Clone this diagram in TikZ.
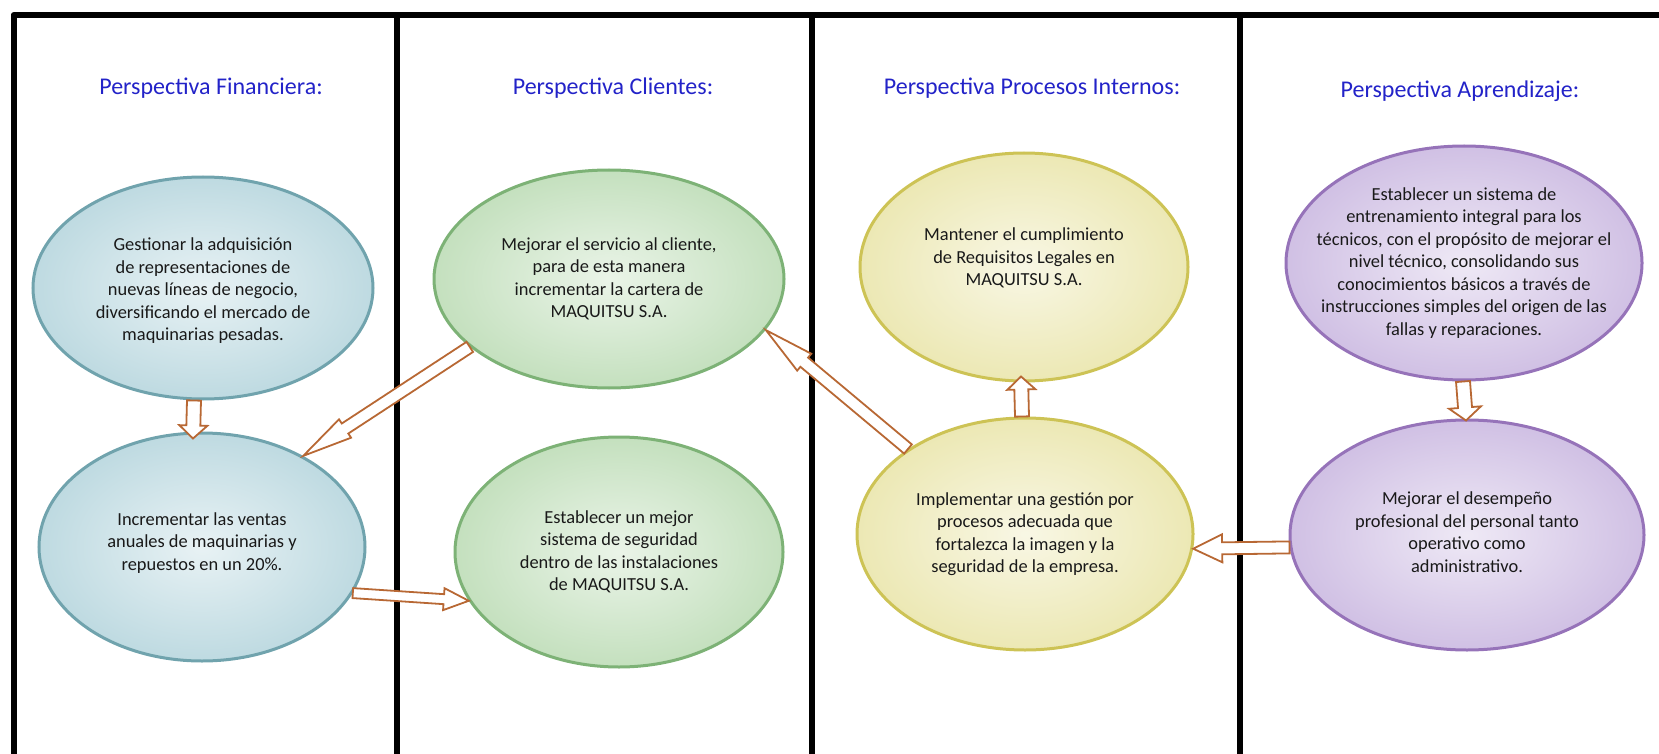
\documentclass[tikz,border=0pt]{standalone}
\usepackage{fontspec}
\setmainfont{Carlito}
\usetikzlibrary{calc}
\usetikzlibrary{shapes.geometric}

\definecolor{azul}{RGB}{35,35,200}
\definecolor{flecha}{RGB}{184,104,52}
\definecolor{finborde}{RGB}{112,163,173}
\definecolor{finfondo}{RGB}{190,218,225}
\definecolor{cliborde}{RGB}{125,178,118}
\definecolor{clifondo}{RGB}{196,224,190}
\definecolor{proborde}{RGB}{205,195,85}
\definecolor{profondo}{RGB}{236,232,180}
\definecolor{aprborde}{RGB}{150,115,185}
\definecolor{aprfondo}{RGB}{208,192,228}

\tikzset{
 oval/.style 2 args={ellipse, draw=#1, line width=1.5pt, inner color=#2!35!white, outer color=#2, inner sep=0pt},
 ovaltext/.style={align=center, font=\fontsize{9.2}{11.25}\selectfont, text=black!90},
 titulo/.style={font=\fontsize{12}{14}\selectfont, text=azul},
 hueca/.style n args={3}{draw=flecha, fill=white, line width=0.9pt, line join=miter,
  to path={let \p1=(\tikztostart), \p2=(\tikztotarget),
   \n1={atan2(\y2-\y1,\x2-\x1)}, \n2={veclen(\x2-\x1,\y2-\y1)} in
   [shift={(\p1)}, rotate=\n1]
   (0pt,-#1) -- ({\n2*1pt-#3},-#1) -- ({\n2*1pt-#3},-#2) -- ({\n2*1pt},0pt)
   -- ({\n2*1pt-#3},#2) -- ({\n2*1pt-#3},#1) -- (0pt,#1) -- cycle}}
}

\begin{document}
\begin{tikzpicture}[x=0.5pt, y=-0.5pt]
\useasboundingbox (0,0) rectangle (1659,754);
\draw[line width=3pt, line join=round] (13.5,754) -- (13.5,15) -- (1659,15);
\foreach \x in {397,812,1240} {
 \draw[line width=3pt] (\x,15) -- (\x,754);
}
\foreach \x/\y/\txt [count=\i] in {211/88/Financiera, 613/88/Clientes, 1032/88/Procesos Internos, 1460/91/Aprendizaje} {
 \node[titulo] (p\i) at (\x,\y) {Perspectiva \txt:};
}

\node[oval={finborde}{finfondo}, minimum width=170pt, minimum height=111pt] (e1) at (203,288) {};
\node[oval={finborde}{finfondo}, minimum width=163pt, minimum height=114pt] (e2) at (202,547) {};
\node[oval={cliborde}{clifondo}, minimum width=175pt, minimum height=109pt] (e3) at (609,279) {};
\node[oval={cliborde}{clifondo}, minimum width=164pt, minimum height=115pt] (e4) at (619,552) {};
\node[oval={proborde}{profondo}, minimum width=164pt, minimum height=114pt] (e5) at (1024,267) {};
\node[oval={proborde}{profondo}, minimum width=168pt, minimum height=116pt] (e6) at (1025,534) {};
\node[oval={aprborde}{aprfondo}, minimum width=178pt, minimum height=117pt] (e7) at (1464,263) {};
\node[oval={aprborde}{aprfondo}, minimum width=177pt, minimum height=115pt] (e8) at (1467,535) {};

\node[ovaltext] (t1) at ([yshift=-1.5pt]e1) {Gestionar la adquisición\\de representaciones de\\nuevas líneas de negocio,\\diversificando el mercado de\\maquinarias pesadas.};
\node[ovaltext] (t2) at ([yshift=2pt]e2) {Incrementar las ventas\\anuales de maquinarias y\\repuestos en un 20\%.};
\node[ovaltext] (t3) at (e3) {Mejorar el servicio al cliente,\\para de esta manera\\incrementar la cartera de\\MAQUITSU S.A.};
\node[ovaltext] (t4) at (e4) {Establecer un mejor\\sistema de seguridad\\dentro de las instalaciones\\de MAQUITSU S.A.};
\node[ovaltext] (t5) at ([yshift=4.5pt]e5) {Mantener el cumplimiento\\de Requisitos Legales en\\MAQUITSU S.A.};
\node[ovaltext] (t6) at (e6) {Implementar una gestión por\\procesos adecuada que\\fortalezca la imagen y la\\seguridad de la empresa.};
\node[ovaltext] (t7) at (e7) {Establecer un sistema de\\entrenamiento integral para los\\técnicos, con el propósito de mejorar el\\nivel técnico, consolidando sus\\conocimientos básicos a través de\\instrucciones simples del origen de las\\fallas y reparaciones.};
\node[ovaltext] (t8) at ([yshift=1.5pt]e8) {Mejorar el desempeño\\profesional del personal tanto\\operativo como\\administrativo.};

\draw[hueca={3.5pt}{7pt}{6.5pt}] ([xshift=-4.5pt]e1.south) to ([xshift=-4.5pt,yshift=-3.5pt]e2.north);
\draw[hueca={3pt}{5.5pt}{25pt}] (e3.206) to (e2.42);
\draw[hueca={2.5pt}{5.5pt}{12.5pt}] (e2.-17) to (e4.198);
\draw[hueca={3pt}{5.5pt}{25pt}] (e6.144) to (e3.-18);
\draw[hueca={3.5pt}{7pt}{6.5pt}] ([xshift=-1.5pt]e6.north) to ([xshift=-1.5pt,yshift=3pt]e5.south);
\draw[hueca={3.5pt}{8pt}{6.5pt}] ([xshift=-0.5pt]e7.south) to ([xshift=-0.5pt,yshift=-1pt]e8.north);
\draw[hueca={3pt}{7pt}{14.5pt}] (e8.184) to (e6.-5);
\end{tikzpicture}
\end{document}
